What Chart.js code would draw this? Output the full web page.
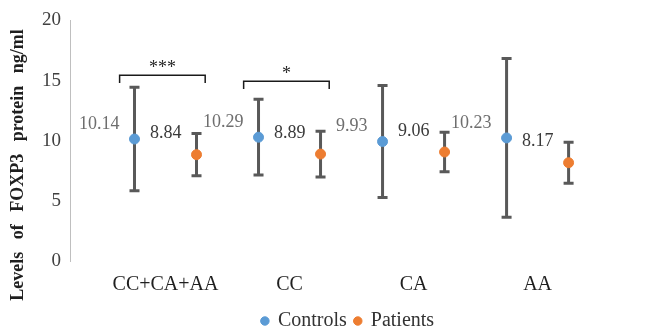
<!DOCTYPE html>
<html lang="en">
<head>
<meta charset="UTF-8">
<title>FOXP3 levels</title>
<script src="https://cdn.jsdelivr.net/npm/chart.js"></script>
<style>
  html, body { margin: 0; padding: 0; background: #ffffff; }
  #wrap { width: 649px; height: 330px; position: relative; }
</style>
</head>
<body>
<div id="wrap"><canvas id="foxp3Chart"></canvas></div>
<script>
const categories = ['CC+CA+AA', 'CC', 'CA', 'AA'];
const controlsMean = [10.14, 10.29, 9.93, 10.23];
const controlsErr = [4.3, 3.15, 4.65, 6.6];
const patientsMean = [8.84, 8.89, 9.06, 8.17];
const patientsErr = [1.75, 1.9, 1.65, 1.7];
const yTicks = [0, 5, 10, 15, 20];
const sigGroups = [0, 1];
const sigStars = ['***', '*'];

const serif = "'Liberation Serif', 'Times New Roman', serif";
const blue = '#5b9bd5';
const orange = '#ed7d31';
const OFFSET = 0.25; // controls left, patients right of the category

Chart.defaults.font.family = serif;

function toPoints(means, shift) {
  return means.map((v, i) => ({ x: i + shift, y: v }));
}

// error bars, behind the markers
const errorBars = {
  id: 'errorBars',
  beforeDatasetsDraw(chart) {
    const { ctx, scales: { x, y } } = chart;
    const errs = [controlsErr, patientsErr];
    ctx.save();
    ctx.strokeStyle = '#595959';
    ctx.lineWidth = 3;
    chart.data.datasets.forEach((ds, d) => {
      ds.data.forEach((p, i) => {
        const px = x.getPixelForValue(p.x);
        const top = y.getPixelForValue(p.y + errs[d][i]);
        const bot = y.getPixelForValue(p.y - errs[d][i]);
        ctx.beginPath();
        ctx.moveTo(px, top); ctx.lineTo(px, bot);
        ctx.moveTo(px - 5, top); ctx.lineTo(px + 5, top);
        ctx.moveTo(px - 5, bot); ctx.lineTo(px + 5, bot);
        ctx.stroke();
      });
    });
    ctx.restore();
  }
};

// the legend sits a bit right of centre and low in the original
const legendShift = {
  id: 'legendShift',
  afterLayout(chart) {
    const lg = chart.legend;
    lg.left += 42; lg.right += 42;
    lg.top += 11; lg.bottom += 11;
  }
};

// value labels, brackets and the rotated axis title
const extras = {
  id: 'extras',
  afterDraw(chart, args, opts) {
    const { ctx, scales: { x, y } } = chart;
    ctx.save();
    ctx.font = '18px ' + serif;
    ctx.textAlign = 'right';
    ctx.textBaseline = 'middle';
    const labelColors = ['#6e6e6e', '#3a3a3a'];
    const lift = [15, 21];
    chart.data.datasets.forEach((ds, d) => {
      ctx.fillStyle = labelColors[d];
      ds.data.forEach((p) => {
        ctx.fillText(p.y.toFixed(2), x.getPixelForValue(p.x) - 15, y.getPixelForValue(p.y) - lift[d]);
      });
    });

    // significance brackets
    ctx.strokeStyle = '#1a1a1a';
    ctx.lineWidth = 1.5;
    ctx.fillStyle = '#262626';
    ctx.textAlign = 'center';
    ctx.textBaseline = 'alphabetic';
    sigGroups.forEach((g, k) => {
      const lvl = opts.levels[k];
      const x1 = x.getPixelForValue(g - 0.37);
      const x2 = x.getPixelForValue(g + 0.32);
      const yt = y.getPixelForValue(lvl);
      const yb = y.getPixelForValue(lvl - 0.65);
      ctx.beginPath();
      ctx.moveTo(x1, yb); ctx.lineTo(x1, yt); ctx.lineTo(x2, yt); ctx.lineTo(x2, yb);
      ctx.stroke();
      ctx.font = '18px ' + serif;
      ctx.fillText(sigStars[k], (x1 + x2) / 2, yt - 2);
    });

    // y axis title
    ctx.translate(18, 165);
    ctx.rotate(-Math.PI / 2);
    ctx.font = 'bold 18px ' + serif;
    ctx.wordSpacing = '8px';
    ctx.fillStyle = '#1f1f1f';
    ctx.textAlign = 'center';
    ctx.textBaseline = 'middle';
    ctx.fillText('Levels of FOXP3 protein ng/ml', 0, 0);
    ctx.restore();
  }
};

new Chart(document.getElementById('foxp3Chart'), {
  type: 'scatter',
  data: {
    datasets: [
      {
        label: 'Controls',
        data: toPoints(controlsMean, -OFFSET),
        backgroundColor: blue,
        borderColor: blue,
        pointRadius: 5,
        pointHoverRadius: 5
      },
      {
        label: 'Patients',
        data: toPoints(patientsMean, OFFSET),
        backgroundColor: orange,
        borderColor: orange,
        pointRadius: 5,
        pointHoverRadius: 5
      }
    ]
  },
  options: {
    responsive: true,
    maintainAspectRatio: false,
    animation: false,
    layout: { padding: { top: 17, right: 37, bottom: 0, left: 0 } },
    plugins: {
      tooltip: { enabled: false },
      legend: {
        position: 'bottom',
        labels: {
          usePointStyle: true,
          pointStyle: 'circle',
          boxWidth: 6,
          boxHeight: 6,
          padding: 8,
          color: '#333333',
          font: { family: serif, size: 20 }
        }
      },
      extras: { levels: [15.45, 14.95] }
    },
    scales: {
      x: {
        type: 'linear',
        min: -0.77,
        max: 3.6,
        afterBuildTicks: (s) => { s.ticks = categories.map((c, i) => ({ value: i })); },
        afterFit: (s) => { s.height = 31; },
        grid: { display: false, drawTicks: false },
        border: { display: false },
        ticks: {
          padding: 12,
          color: '#1f1f1f',
          font: { family: serif, size: 20 },
          callback: (v) => categories[v]
        }
      },
      y: {
        min: 0,
        max: 20,
        afterBuildTicks: (s) => { s.ticks = yTicks.map((v) => ({ value: v })); },
        afterFit: (s) => { s.width = 70; },
        grid: { display: false, drawTicks: false },
        border: { display: true, color: '#bfbfbf', width: 1 },
        ticks: {
          padding: 9,
          color: '#404040',
          font: { family: serif, size: 19 }
        }
      }
    }
  },
  plugins: [errorBars, legendShift, extras]
});
</script>
</body>
</html>
